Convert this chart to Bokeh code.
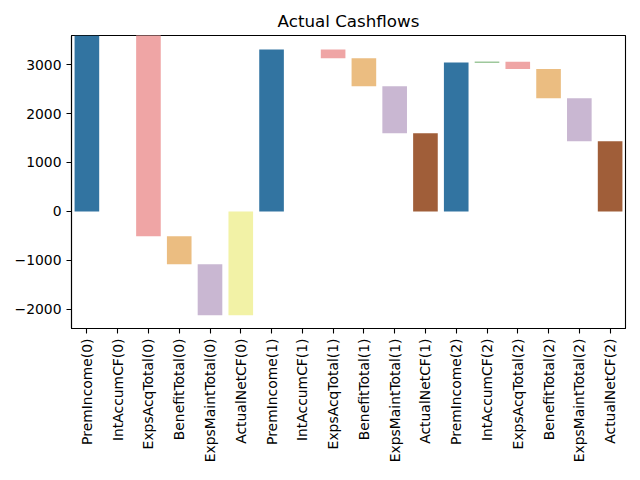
from bokeh.plotting import figure
from bokeh.models import ColumnDataSource, Range1d, FixedTicker
from bokeh.embed import file_html
from bokeh.resources import INLINE
import math

# ---- data ----
periods = [0, 1, 2]
items = ["PremIncome", "IntAccumCF", "ExpsAcqTotal", "BenefitTotal", "ExpsMaintTotal"]
prem_income = [3900, 3306, 3041]
int_accum_cf = [0, 0, 14]
exps_acq_total = [-4404, -177, -147]
benefit_total = [-571, -572, -596]
exps_maint_total = [-1041, -959, -877]
actual_net_cf = [-2116, 1598, 1435]
y_ticks = [-2000, -1000, 0, 1000, 2000, 3000]

palette = {
    "PremIncome": "#3274a1",
    "IntAccumCF": "#3f913a",
    "ExpsAcqTotal": "#efa5a5",
    "BenefitTotal": "#ebbd81",
    "ExpsMaintTotal": "#c9b7d2",
}
net_colors = ["#f2f2a6", "#a05e39", "#a05e39"]

series = {
    "PremIncome": prem_income,
    "IntAccumCF": int_accum_cf,
    "ExpsAcqTotal": exps_acq_total,
    "BenefitTotal": benefit_total,
    "ExpsMaintTotal": exps_maint_total,
}

factors = []
xs, bottoms, tops, colors = [], [], [], []
for i, per in enumerate(periods):
    running = 0.0
    for name in items:
        v = series[name][i]
        f = f"{name}({per})"
        factors.append(f)
        if v != 0:
            xs.append(f)
            bottoms.append(running)
            tops.append(running + v)
            colors.append(palette[name])
        running += v
    f = f"ActualNetCF({per})"
    factors.append(f)
    xs.append(f)
    bottoms.append(0)
    tops.append(actual_net_cf[i])
    colors.append(net_colors[i])

src = ColumnDataSource(dict(x=xs, bottom=bottoms, top=tops, color=colors))

p = figure(
    x_range=factors,
    y_range=Range1d(-2388, 3592),
    width=640, height=480,
    output_backend="svg",
    toolbar_location=None,
    title="Actual Cashflows",
    min_border_left=71, min_border_right=15,
    min_border_top=35, min_border_bottom=152,
)

p.vbar(x="x", bottom="bottom", top="top", width=0.8, color="color", line_color=None, source=src)

p.title.align = "center"
p.title.text_font = "DejaVu Sans"
p.title.text_font_size = "16.7px"
p.title.text_font_style = "normal"
p.title.text_color = "#000000"

p.xgrid.visible = False
p.ygrid.visible = False
p.outline_line_color = "black"
p.outline_line_width = 1.1
p.outline_line_alpha = 1.0
p.background_fill_color = "white"
p.border_fill_color = "white"

p.yaxis.ticker = FixedTicker(ticks=y_ticks)
p.yaxis.major_label_overrides = {t: (str(t).replace("-", "\u2212")) for t in y_ticks}

for ax in (p.xaxis[0], p.yaxis[0]):
    ax.axis_line_color = "black"
    ax.axis_line_width = 1.1
    ax.major_tick_line_color = "black"
    ax.major_tick_line_width = 1.1
    ax.major_tick_out = 5
    ax.major_tick_in = 0
    ax.minor_tick_line_color = None
    ax.major_label_text_font = "DejaVu Sans"
    ax.major_label_text_font_size = "13.9px"
    ax.major_label_text_color = "black"
    ax.major_label_standoff = 5

p.xaxis.major_label_orientation = math.pi / 2
p.xaxis.group_text_font_size = "0px"

open("out.html", "w").write(file_html(p, INLINE))
